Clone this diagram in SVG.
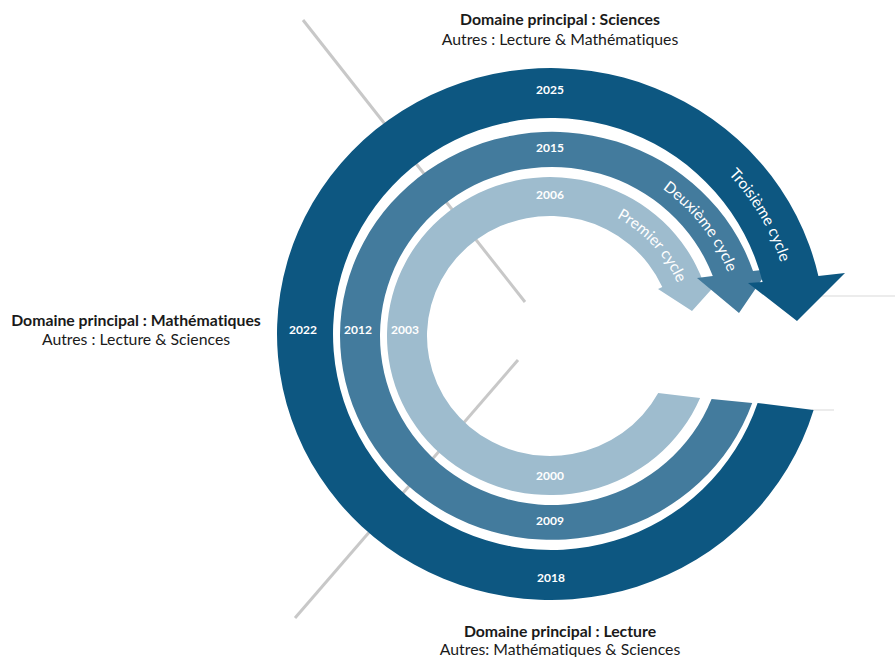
<svg xmlns="http://www.w3.org/2000/svg" width="895" height="657" viewBox="0 0 895 657">
<style>
.t{font-family:Lato,"Liberation Sans",sans-serif;font-size:15.8px;fill:#1a1a1a;text-anchor:middle;font-variant-ligatures:none}
.b{font-weight:bold}
.yr{font-family:Lato,"Liberation Sans",sans-serif;font-size:12px;font-weight:bold;fill:#ffffff;text-anchor:middle}
.cy{font-family:Lato,"Liberation Sans",sans-serif;font-size:15.5px;fill:#ffffff}
.axis{stroke:#c8c8c8;stroke-width:3;fill:none}
.faint{stroke:#ececec;stroke-width:2;fill:none}
.c1{fill:#9ebcce}
.c2{fill:#437b9d}
.c3{fill:#0d5781}
</style>
<defs>
<path id="p3" d="M 664.1 125.6 A 241 236 0 0 1 791.9 342.2"/>
<path id="p2" d="M 619.2 166.1 A 187.5 182 0 0 1 738.8 320.1"/>
<path id="p1" d="M 588.2 206.2 A 138.5 135 0 0 1 686.4 312.6"/>
</defs>
<g id="axes">
<line class="axis" x1="303" y1="20" x2="525" y2="302"/>
<line class="axis" x1="518" y1="360" x2="295" y2="618"/>
<line class="faint" x1="800" y1="296" x2="895" y2="296"/>
<line class="faint" x1="812" y1="410" x2="834" y2="410"/>
</g>
<g id="connectors">
<g id="cycle1">
<path class="c1" d="M 658.2 393 L 700.1 398 A 163 159 0 1 1 703.3 282 L 719 281 L 692 311 L 658 289 L 662.3 287 A 123 120 0 1 0 658.2 393 Z"/>
<text class="cy"><textPath href="#p1" startOffset="50%" text-anchor="middle">Premier cycle</textPath></text>
</g>
<g id="cycle2">
<path class="c2" d="M 711.6 399 L 752.2 403 A 212 204 0 1 1 753 271 L 769 269 L 739 313 L 697 278 L 712.8 276 A 172 169 0 1 0 711.6 399 Z"/>
<text class="cy"><textPath href="#p2" startOffset="50%" text-anchor="middle">Deuxième cycle</textPath></text>
</g>
<g id="cycle3">
<path class="c3" d="M 757.6 403 L 813.6 410 A 274 266 0 1 1 818.4 276 L 845 273 L 797 321 L 748 283 L 762.6 282 A 218 216 0 1 0 757.6 403 Z"/>
<text class="cy"><textPath href="#p3" startOffset="50%" text-anchor="middle">Troisième cycle</textPath></text>
</g>
</g>
<g id="years">
<text class="yr" x="550" y="94">2025</text>
<text class="yr" x="550" y="152">2015</text>
<text class="yr" x="550" y="199">2006</text>
<text class="yr" x="303" y="334">2022</text>
<text class="yr" x="358" y="334">2012</text>
<text class="yr" x="405" y="334">2003</text>
<text class="yr" x="550" y="480">2000</text>
<text class="yr" x="550" y="525">2009</text>
<text class="yr" x="551" y="582">2018</text>
</g>
<g id="label-top">
<text class="t b" x="560" y="25">Domaine principal : Sciences</text>
<text class="t" x="560" y="45">Autres : Lecture &amp; Mathématiques</text>
</g>
<g id="label-left">
<text class="t b" x="136" y="326">Domaine principal : Mathématiques</text>
<text class="t" x="136" y="345">Autres : Lecture &amp; Sciences</text>
</g>
<g id="label-bottom">
<text class="t b" x="560" y="637">Domaine principal : Lecture</text>
<text class="t" x="560" y="655">Autres: Mathématiques &amp; Sciences</text>
</g>
</svg>
